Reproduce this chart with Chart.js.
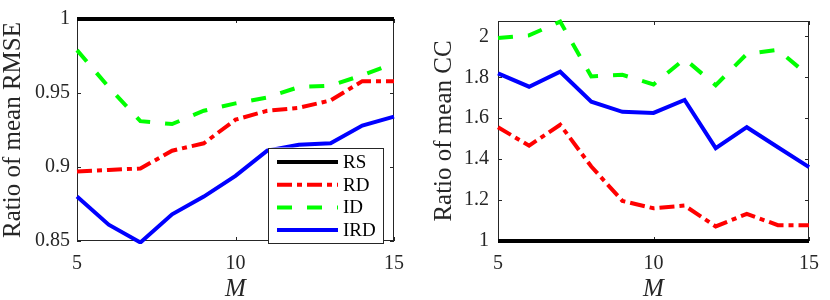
<!DOCTYPE html>
<html><head><meta charset="utf-8">
<script src="https://cdn.jsdelivr.net/npm/chart.js@4/dist/chart.umd.min.js"></script>
<style>
html,body{margin:0;padding:0;background:#fff;}
#wrap{position:relative;width:830px;height:300px;overflow:hidden;}
canvas{position:absolute;top:0;}
#c1{left:0}
#c2{left:415px}
</style></head><body>
<div id="wrap"><canvas id="c1" width="415" height="300"></canvas><canvas id="c2" width="415" height="300"></canvas></div>
<script>
const M = [5, 6, 7, 8, 9, 10, 11, 12, 13, 14, 15];
const seriesNames = ['RS', 'RD', 'ID', 'IRD'];
const rmseRS  = [1, 1, 1, 1, 1, 1, 1, 1, 1, 1, 1];
const rmseRD  = [0.897, 0.898, 0.899, 0.911, 0.916, 0.932, 0.938, 0.940, 0.945, 0.958, 0.958];
const rmseID  = [0.979, 0.954, 0.931, 0.929, 0.938, 0.943, 0.947, 0.954, 0.955, 0.962, 0.970];
const rmseIRD = [0.880, 0.861, 0.849, 0.868, 0.880, 0.894, 0.911, 0.915, 0.916, 0.928, 0.934];
const ccRS  = [1, 1, 1, 1, 1, 1, 1, 1, 1, 1, 1];
const ccRD  = [1.556, 1.466, 1.568, 1.364, 1.196, 1.160, 1.173, 1.071, 1.133, 1.077, 1.077];
const ccID  = [1.992, 2.005, 2.072, 1.804, 1.812, 1.765, 1.890, 1.761, 1.914, 1.934, 1.807];
const ccIRD = [1.819, 1.754, 1.827, 1.681, 1.631, 1.626, 1.689, 1.454, 1.556, 1.458, 1.361];
const xTicks = [5, 10, 15];
const rmseTicks = [0.85, 0.9, 0.95, 1];
const ccTicks = [1, 1.2, 1.4, 1.6, 1.8, 2];

const FONT = 'Liberation Serif, Times New Roman, serif';
const AX = '#262626';
const styles = [
  {color: '#000000', dash: []},
  {color: '#ff0000', dash: [15, 5, 5, 5]},
  {color: '#00ff00', dash: [15, 15]},
  {color: '#0000ff', dash: []}
];

function makeDatasets(arrs) {
  return arrs.map((arr, i) => ({
    label: seriesNames[i],
    data: M.map((m, j) => ({x: m, y: arr[j]})),
    borderColor: styles[i].color,
    backgroundColor: styles[i].color,
    borderDash: styles[i].dash,
    borderWidth: 4,
    pointRadius: 0,
    tension: 0,
    fill: false,
    clip: 3,
    borderCapStyle: 'butt',
    borderJoinStyle: 'miter'
  }));
}

const framePlugin = {
  id: 'frame',
  beforeDatasetsDraw(chart) {
    const {ctx, chartArea: a, scales: {x, y}} = chart;
    ctx.save();
    ctx.strokeStyle = AX;
    ctx.lineWidth = 1;
    ctx.strokeRect(Math.round(a.left) + 0.5, Math.round(a.top) + 0.5,
                   Math.round(a.right) - Math.round(a.left) - 1, Math.round(a.bottom) - Math.round(a.top) - 1);
    ctx.beginPath();
    const tl = 4;
    x.ticks.forEach(t => {
      const px = Math.round(x.getPixelForValue(t.value)) + 0.5;
      ctx.moveTo(px, a.bottom); ctx.lineTo(px, a.bottom - tl);
      ctx.moveTo(px, a.top); ctx.lineTo(px, a.top + tl);
    });
    y.ticks.forEach(t => {
      const py = Math.round(y.getPixelForValue(t.value)) + 0.5;
      ctx.moveTo(a.left, py); ctx.lineTo(a.left + tl, py);
      ctx.moveTo(a.right, py); ctx.lineTo(a.right - tl, py);
    });
    ctx.stroke();
    ctx.restore();
  }
};

const legendPlugin = {
  id: 'boxLegend',
  afterDatasetsDraw(chart) {
    const {ctx, chartArea: a} = chart;
    const right = a.right - 11, bottom = a.bottom + 1.5;
    const w = 115, h = 95;
    const left = right - w, top = bottom - h;
    ctx.save();
    ctx.fillStyle = '#ffffff';
    ctx.fillRect(left, top, w, h);
    ctx.strokeStyle = AX;
    ctx.lineWidth = 1;
    ctx.strokeRect(Math.round(left) + 0.5, Math.round(top) + 0.5, w, h);
    ctx.font = '19px ' + FONT;
    ctx.textBaseline = 'middle';
    ctx.textAlign = 'left';
    chart.data.datasets.forEach((ds, i) => {
      const cy = top + 14.5 + i * 22.7;
      ctx.beginPath();
      ctx.strokeStyle = ds.borderColor;
      ctx.lineWidth = ds.borderWidth;
      ctx.setLineDash(ds.borderDash);
      ctx.lineCap = 'butt';
      ctx.moveTo(left + 9, cy);
      ctx.lineTo(left + 70, cy);
      ctx.stroke();
      ctx.setLineDash([]);
      ctx.fillStyle = '#000';
      ctx.fillText(ds.label, left + 75, cy + 1);
    });
    ctx.restore();
  }
};

function makeChart(id, arrs, yMin, yMax, yTicks, yTitle, opts) {
  return new Chart(document.getElementById(id), {
    type: 'line',
    data: {datasets: makeDatasets(arrs)},
    plugins: [framePlugin].concat(opts.legend ? [legendPlugin] : []),
    options: {
      responsive: false,
      animation: false,
      devicePixelRatio: 1,
      layout: {padding: {top: 13, right: opts.padRight, left: 0, bottom: 0}},
      plugins: {legend: {display: false}, tooltip: {enabled: false}},
      scales: {
        x: {
          type: 'linear', min: 5, max: 15,
          afterBuildTicks: s => { s.ticks = xTicks.map(v => ({value: v})); },
          afterFit: s => { s.height = 59; },
          grid: {display: false, drawTicks: false},
          border: {display: false},
          ticks: {padding: 11, maxRotation: 0, color: AX, font: {family: FONT, size: 20}, callback: v => String(v)},
          title: {display: true, text: 'M', color: AX, padding: 0,
                  font: {family: FONT, size: 25, style: 'italic', lineHeight: 0.84}}
        },
        y: {
          type: 'linear', min: yMin, max: yMax,
          afterBuildTicks: s => { s.ticks = yTicks.map(v => ({value: v})); },
          afterFit: s => { s.width = opts.yWidth; },
          grid: {display: false, drawTicks: false},
          border: {display: false},
          ticks: {padding: opts.tickPad, color: AX, font: {family: FONT, size: 20}, callback: v => String(v)},
          title: {display: true, text: yTitle, color: AX, padding: {top: opts.titlePad, bottom: 0},
                  font: {family: FONT, size: 25, lineHeight: 1.04}}
        }
      }
    }
  });
}

makeChart('c1', [rmseRS, rmseRD, rmseID, rmseIRD], 0.85, 1, rmseTicks, 'Ratio of mean RMSE',
  {legend: true, padRight: 18, yWidth: 77, tickPad: 7, titlePad: 0});
makeChart('c2', [ccRS, ccRD, ccID, ccIRD], 1, 2.075, ccTicks, 'Ratio of mean CC',
  {legend: false, padRight: 12, yWidth: 83, tickPad: 9, titlePad: 16});
</script>
</body></html>
